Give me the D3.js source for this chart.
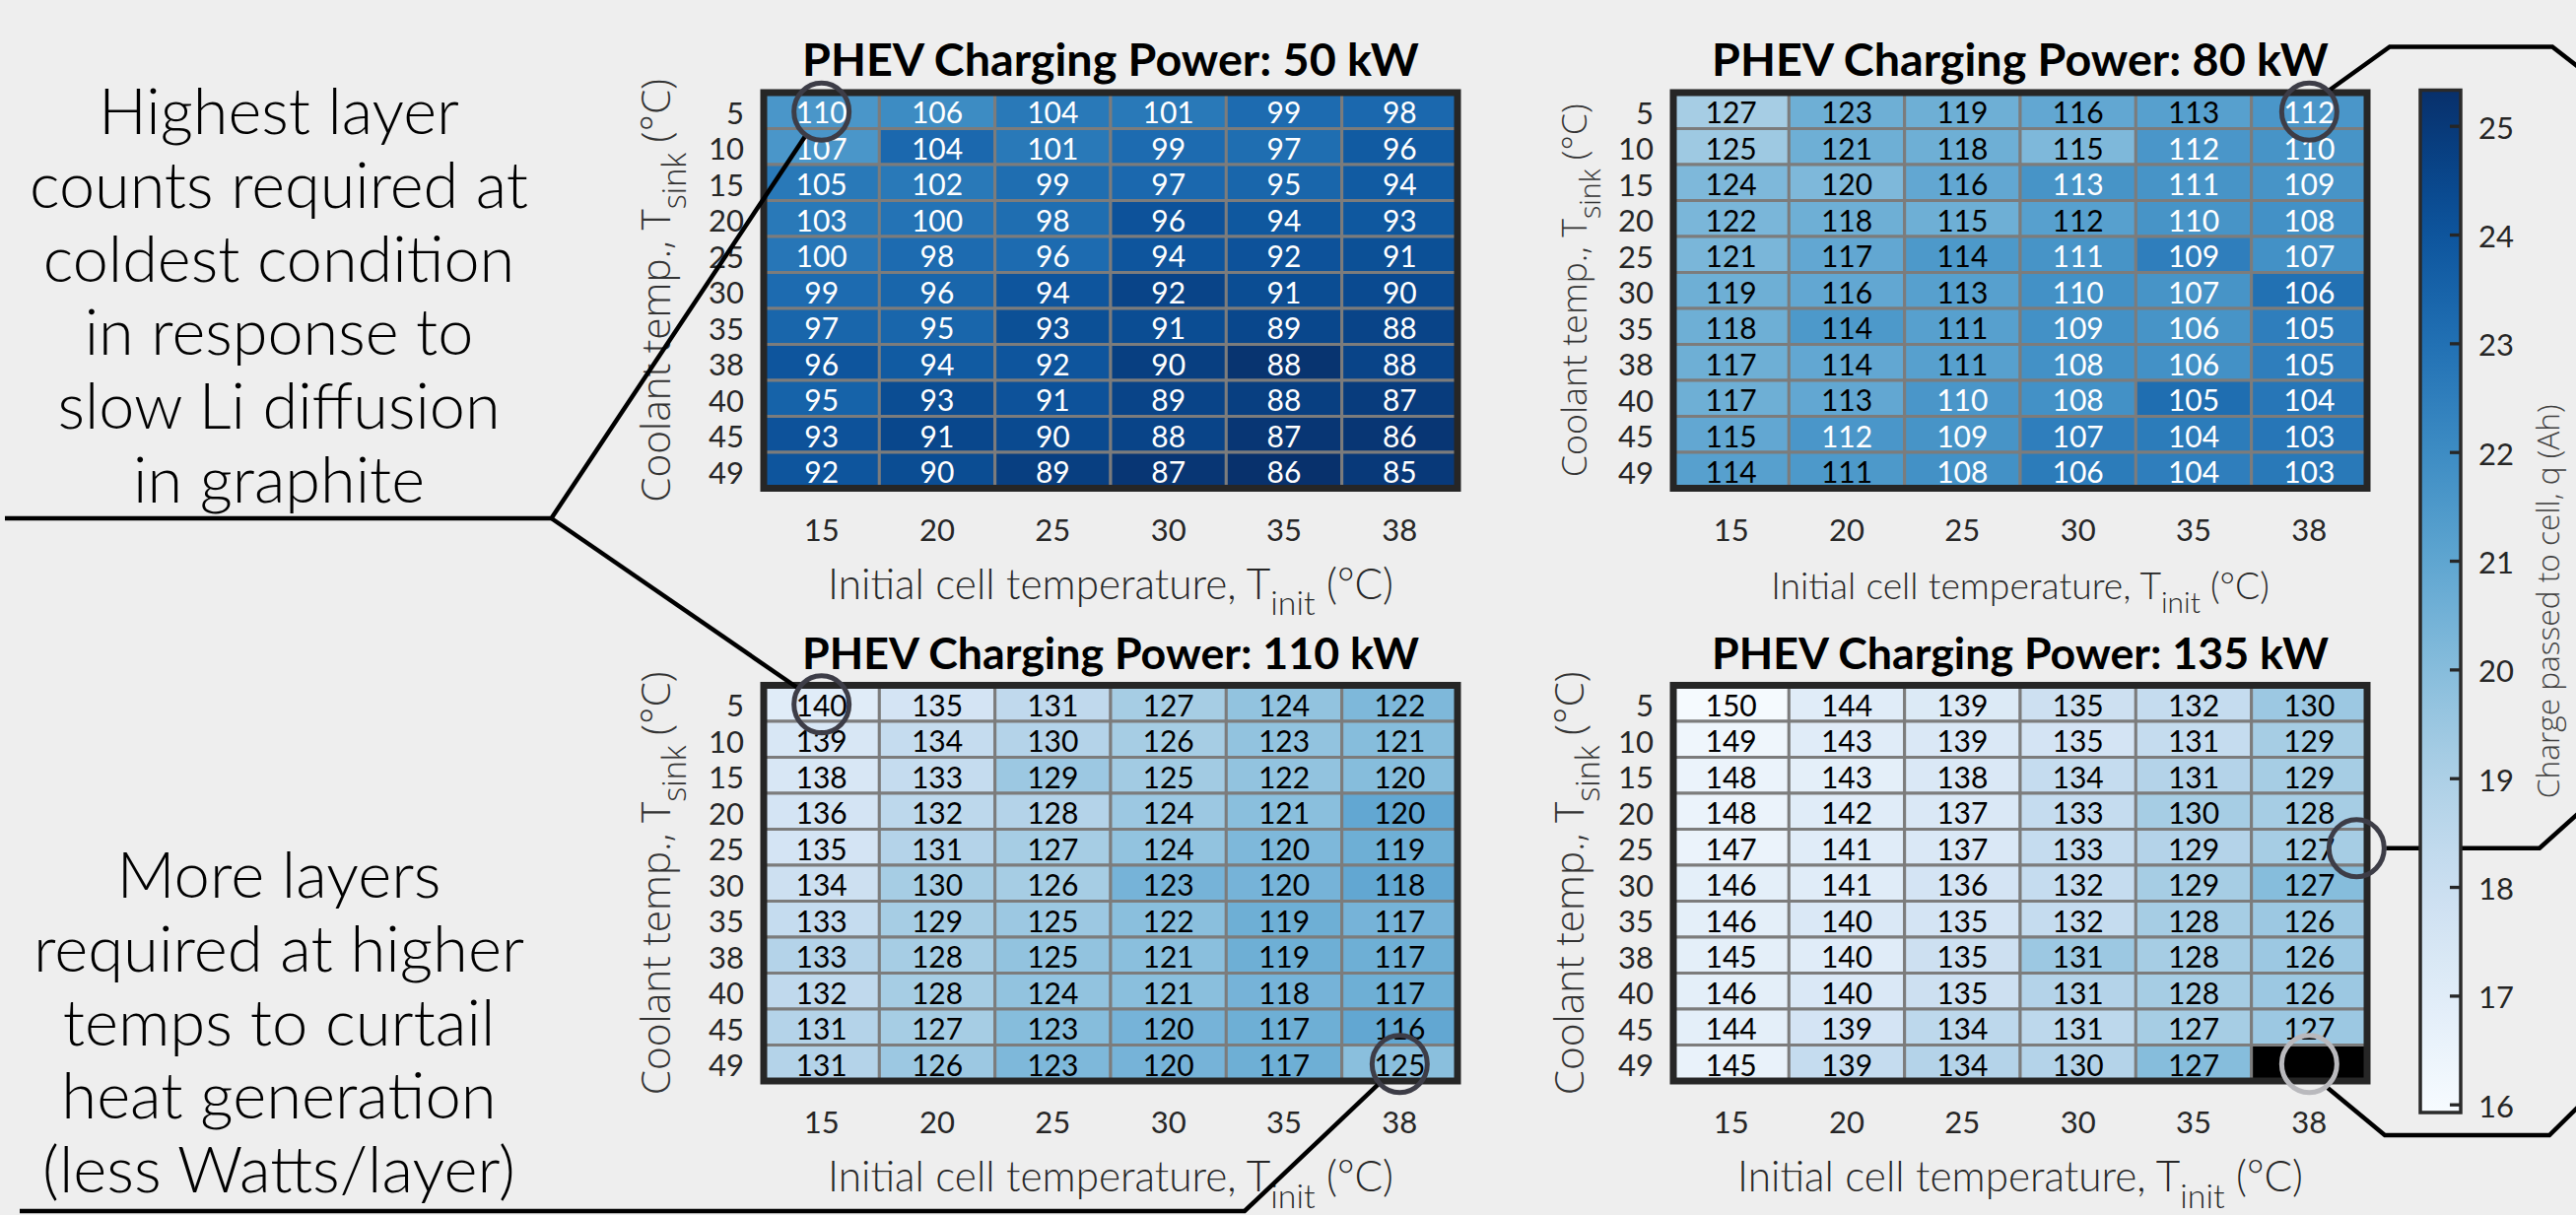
<!DOCTYPE html>
<html>
<head>
<meta charset="utf-8">
<script src="https://cdn.jsdelivr.net/npm/d3@7"></script>
<style>
  body { margin: 0; background: #eeeeee; }
  svg { display: block; }
</style>
</head>
<body>
<svg id="fig"></svg>
<script>
// ---- data ----
const powers = [50, 80, 110, 135];
const tInit = [15, 20, 25, 30, 35, 38];
const tSink = [5, 10, 15, 20, 25, 30, 35, 38, 40, 45, 49];
const cbTicks = [16, 17, 18, 19, 20, 21, 22, 23, 24, 25];
const chargeRange = [15.925, 25.328];

// layer counts printed in the cells (rows = tSink, cols = tInit)
const layers50 = [
  [110,106,104,101,99,98],[107,104,101,99,97,96],[105,102,99,97,95,94],[103,100,98,96,94,93],
  [100,98,96,94,92,91],[99,96,94,92,91,90],[97,95,93,91,89,88],[96,94,92,90,88,88],
  [95,93,91,89,88,87],[93,91,90,88,87,86],[92,90,89,87,86,85]];
const layers80 = [
  [127,123,119,116,113,112],[125,121,118,115,112,110],[124,120,116,113,111,109],[122,118,115,112,110,108],
  [121,117,114,111,109,107],[119,116,113,110,107,106],[118,114,111,109,106,105],[117,114,111,108,106,105],
  [117,113,110,108,105,104],[115,112,109,107,104,103],[114,111,108,106,104,103]];
const layers110 = [
  [140,135,131,127,124,122],[139,134,130,126,123,121],[138,133,129,125,122,120],[136,132,128,124,121,120],
  [135,131,127,124,120,119],[134,130,126,123,120,118],[133,129,125,122,119,117],[133,128,125,121,119,117],
  [132,128,124,121,118,117],[131,127,123,120,117,116],[131,126,123,120,117,125]];
const layers135 = [
  [150,144,139,135,132,130],[149,143,139,135,131,129],[148,143,138,134,131,129],[148,142,137,133,130,128],
  [147,141,137,133,129,127],[146,141,136,132,129,127],[146,140,135,132,128,126],[145,140,135,131,128,126],
  [146,140,135,131,128,126],[144,139,134,131,127,127],[145,139,134,130,127,null]];

// charge passed to cell q (Ah)
const charge50 = [
  [21.6,22.0,22.7,22.7,23.2,23.3],[21.6,23.3,22.7,23.2,23.1,23.8],[22.7,22.7,23.1,23.3,23.4,23.8],
  [22.7,22.9,23.1,24.1,23.9,23.9],[22.8,23.2,23.2,24.0,24.1,24.2],[23.2,23.4,24.0,24.6,24.3,24.4],
  [23.4,23.4,24.2,24.3,24.5,24.6],[24.0,23.8,24.0,24.8,25.2,24.6],[23.5,24.3,24.1,24.6,24.8,24.9],
  [24.1,24.5,24.4,24.6,25.1,25.1],[24.0,24.3,24.8,25.1,25.3,25.0]];
const charge80 = [
  [19.2,20.6,20.6,20.9,21.2,21.6],[19.4,20.6,20.6,20.2,21.6,21.7],[20.2,20.2,20.9,21.7,21.7,21.7],
  [20.3,20.6,20.6,21.2,21.7,21.8],[20.3,20.9,21.5,21.7,22.5,21.8],[20.6,20.9,21.2,21.8,21.7,23.0],
  [20.6,21.5,21.2,21.8,21.7,22.5],[20.6,20.9,21.2,21.8,21.8,22.5],[20.6,20.9,21.6,21.8,23.1,22.8],
  [20.9,21.6,21.7,22.5,22.6,22.8],[21.2,21.5,21.8,22.6,22.5,22.7]];
const charge110 = [
  [17.0,17.6,18.4,19.2,19.7,20.2],[17.4,18.2,18.8,19.2,19.7,20.0],[17.4,18.2,19.45,19.3,19.7,20.0],
  [17.6,18.5,18.8,19.45,19.9,20.9],[17.6,18.8,19.2,19.7,20.2,20.6],[17.9,19.2,19.2,20.4,20.4,20.9],
  [18.2,19.2,19.45,19.9,20.6,20.4],[18.8,19.2,19.7,19.9,20.6,20.6],[18.4,19.2,19.7,19.9,20.4,20.6],
  [18.8,19.2,20.0,20.4,20.6,20.9],[18.8,19.45,20.2,20.4,20.6,19.9]];
const charge135 = [
  [16.0,17.0,17.2,17.9,18.2,19.45],[16.3,17.0,17.3,17.6,18.2,19.2],[16.5,16.8,17.3,18.2,18.8,19.2],
  [16.5,17.0,17.3,18.2,19.2,19.2],[16.5,17.0,17.3,18.2,18.8,19.2],[16.8,17.0,17.6,18.2,19.2,20.0],
  [16.8,17.3,17.6,18.2,19.2,19.45],[16.8,17.0,17.9,19.45,19.2,19.45],[16.8,17.3,17.9,18.8,19.2,19.45],
  [16.8,17.6,18.5,18.5,19.2,19.45],[16.6,18.2,18.8,18.8,20.0,null]];

const noteTop = ["Highest layer", "counts required at", "coldest condition",
                 "in response to", "slow Li diffusion", "in graphite"];
const noteBottom = ["More layers", "required at higher", "temps to curtail",
                    "heat generation", "(less Watts/layer)"];

// ---- layout ----
const W = 2614, H = 1233;
const pw = 704, ph = 401.5;
const layout = [
  { x: 775,  y: 94,    xlabW: 574, ylabW: 430, ylabOff: 95 },
  { x: 1698, y: 94,    xlabW: 506, ylabW: 379, ylabOff: 88 },
  { x: 775,  y: 695.5, xlabW: 574, ylabW: 430, ylabOff: 95 },
  { x: 1698, y: 695.5, xlabW: 574, ylabW: 430, ylabOff: 91 }
];
const layerSets = [layers50, layers80, layers110, layers135];
const chargeSets = [charge50, charge80, charge110, charge135];

const FONT = "Lato, 'Open Sans', sans-serif";
const WIDE = "'Open Sans', 'Noto Sans', sans-serif";

const svg = d3.select("#fig").attr("width", W).attr("height", H);
svg.append("rect").attr("width", W).attr("height", H).attr("fill", "#eeeeee");

const x = d3.scaleBand().domain(tInit).range([0, pw]);
const y = d3.scaleBand().domain(tSink).range([0, ph]);
const color = d3.scaleSequential(d3.interpolateBlues).domain(chargeRange);

function fitWidth(sel, target) {
  const w = sel.node().getBBox().width;
  const fs = parseFloat(sel.attr("font-size"));
  sel.attr("font-size", fs * target / w);
}

function subLabel(sel, parts) {
  parts.forEach(([t, sub], i) => {
    const ts = sel.append("tspan").text(t);
    if (sub) ts.attr("font-size", "80%").attr("dy", "0.5em");
    else if (i > 0 && parts[i - 1][1]) ts.attr("dy", "-0.4em");
  });
}

const layersLayer = svg.append("g");
const linesLayer = svg.append("g");
const ringsLayer = svg.append("g");

powers.forEach((pwr, k) => {
  const L = layout[k];
  const g = layersLayer.append("g").attr("transform", `translate(${L.x},${L.y})`);
  const cells = [];
  tSink.forEach((ts, i) => tInit.forEach((ti, j) => {
    cells.push({ ts, ti, n: layerSets[k][i][j], q: chargeSets[k][i][j] });
  }));

  g.selectAll(".cell").data(cells).enter().append("rect")
    .attr("x", d => x(d.ti)).attr("y", d => y(d.ts))
    .attr("width", x.bandwidth()).attr("height", y.bandwidth())
    .attr("fill", d => d.q == null ? "#000" : color(d.q))
    .attr("stroke", "#7c7c7c").attr("stroke-width", 3);

  g.selectAll(".val").data(cells.filter(d => d.n != null)).enter().append("text")
    .attr("x", d => x(d.ti) + x.bandwidth() / 2)
    .attr("y", d => y(d.ts) + y.bandwidth() / 2)
    .attr("dy", "0.43em")
    .attr("text-anchor", "middle")
    .attr("font-family", FONT).attr("font-size", 30)
    .attr("fill", d => d.q > 21.55 ? "#ffffff" : "#000000")
    .text(d => d.n);

  g.append("rect").attr("width", pw).attr("height", ph)
    .attr("fill", "none").attr("stroke", "#262626").attr("stroke-width", 7);

  // axes
  g.append("g").attr("transform", `translate(0,${ph})`)
    .call(d3.axisBottom(x).tickSize(0).tickPadding(0))
    .call(a => a.select(".domain").remove())
    .attr("font-family", FONT).attr("font-size", 31).attr("color", "#262626")
    .selectAll("text").attr("y", 53).attr("dy", null);

  g.append("g")
    .call(d3.axisLeft(y).tickSize(0).tickPadding(20))
    .call(a => a.select(".domain").remove())
    .attr("font-family", FONT).attr("font-size", 31).attr("color", "#262626")
    .selectAll("text").attr("dy", "0.43em");

  const title = g.append("text")
    .attr("x", pw / 2).attr("y", -17).attr("text-anchor", "middle")
    .attr("font-family", FONT).attr("font-weight", 700).attr("font-size", 44)
    .attr("fill", "#000").text(`PHEV Charging Power: ${pwr} kW`);
  fitWidth(title, 626);

  const xl = g.append("text")
    .attr("x", pw / 2).attr("y", ph + 112).attr("text-anchor", "middle")
    .attr("font-family", FONT).attr("font-weight", 300).attr("font-size", 40)
    .attr("fill", "#262626");
  subLabel(xl, [["Initial cell temperature, T", false], ["init", true], [" (°C)", false]]);
  fitWidth(xl, L.xlabW);

  const yl = g.append("text")
    .attr("transform", `translate(${-L.ylabOff},${ph / 2}) rotate(-90)`)
    .attr("text-anchor", "middle")
    .attr("font-family", WIDE).attr("font-weight", 300).attr("font-size", 34)
    .attr("fill", "#333333");
  subLabel(yl, [["Coolant temp., T", false], ["sink", true], [" (°C)", false]]);
  fitWidth(yl, L.ylabW);
});

// ---- colorbar ----
const cb = { x: 2456, y: 91.5, w: 41, h: 1037.5 };
const cy = d3.scaleLinear().domain(chargeRange).range([cb.y + cb.h, cb.y]);
const grad = svg.append("defs").append("linearGradient")
  .attr("id", "cbGrad").attr("x1", 0).attr("y1", 1).attr("x2", 0).attr("y2", 0);
grad.selectAll("stop").data(d3.range(0, 1.0001, 0.05)).enter().append("stop")
  .attr("offset", t => t)
  .attr("stop-color", t => color(chargeRange[0] + t * (chargeRange[1] - chargeRange[0])));
svg.append("rect").attr("x", cb.x).attr("y", cb.y).attr("width", cb.w).attr("height", cb.h)
  .attr("fill", "url(#cbGrad)");
const cbAxis = svg.append("g").attr("transform", `translate(${cb.x + cb.w},0)`)
  .call(d3.axisRight(cy).tickValues(cbTicks).tickSize(-11).tickPadding(18))
  .attr("font-family", FONT).attr("font-size", 31).attr("color", "#262626");
cbAxis.select(".domain").remove();
cbAxis.selectAll("line").attr("stroke-width", 3.3);
cbAxis.selectAll("text").attr("dy", "0.4em");
svg.append("rect").attr("x", cb.x).attr("y", cb.y).attr("width", cb.w).attr("height", cb.h)
  .attr("fill", "none").attr("stroke", "#2a2a2a").attr("stroke-width", 3.5);
const cbl = svg.append("text")
  .attr("transform", `translate(2597,${cb.y + cb.h / 2}) rotate(-90)`)
  .attr("text-anchor", "middle")
  .attr("font-family", WIDE).attr("font-weight", 300).attr("font-size", 30)
  .attr("fill", "#404040").text("Charge passed to cell, q (Ah)");
fitWidth(cbl, 400);

// ---- annotation rings and leader lines ----
function cellCenter(k, ts, ti) {
  return [layout[k].x + x(ti) + x.bandwidth() / 2, layout[k].y + y(ts) + y.bandwidth() / 2];
}
const rings = [
  { k: 0, ts: 5, ti: 15, dx: 0, c: "#3d3d47" },
  { k: 1, ts: 5, ti: 38, dx: 0, c: "#3d3d47" },
  { k: 2, ts: 5, ti: 15, dx: 0, c: "#3d3d47" },
  { k: 2, ts: 49, ti: 38, dx: 0, c: "#3d3d47" },
  { k: 3, ts: 25, ti: 38, dx: 48, c: "#3d3d47" },
  { k: 3, ts: 49, ti: 38, dx: 0, c: "#b9b9bd" }
];
rings.forEach(r => {
  const [cx, cyy] = cellCenter(r.k, r.ts, r.ti);
  r.cx = cx + r.dx; r.cy = cyy + 1;
});
rings.forEach(r => {
  ringsLayer.append("ellipse").attr("cx", r.cx).attr("cy", r.cy).attr("rx", 28).attr("ry", 29)
    .attr("fill", "none").attr("stroke", r.c).attr("stroke-width", 5);
});

function toward(r, from) {
  const dx = r.cx - from[0], dy = r.cy - from[1], len = Math.hypot(dx, dy);
  return [r.cx - dx / len * 30, r.cy - dy / len * 30];
}
const fork = [559.5, 526];
const lineGen = d3.line();
const leaders = [
  [[5, 526], fork, toward(rings[0], fork)],
  [fork, toward(rings[2], fork)],
  [[20, 1229], [1263, 1229], toward(rings[3], [1263, 1229])],
  [[2363, 92], [2425, 47.5], [2590, 47.5], [2650, 94]],
  [[rings[4].cx + 30, rings[4].cy], [2577, rings[4].cy], [2650, 795]],
  [[2362, 1104], [2420, 1152], [2587, 1152], [2650, 1090]]
];
leaders.forEach(pts => {
  linesLayer.append("path").attr("d", lineGen(pts))
    .attr("fill", "none").attr("stroke", "#000").attr("stroke-width", 4.5)
    .attr("stroke-linejoin", "miter");
});

// ---- side notes ----
function note(lines, baseline0, step, fitLine, fitW) {
  const t = svg.append("text").attr("font-family", FONT).attr("font-weight", 300)
    .attr("font-size", 66).attr("fill", "#000").attr("text-anchor", "middle");
  lines.forEach((s, i) => t.append("tspan").attr("x", 283).attr("y", baseline0 + i * step).text(s));
  const probe = svg.append("text").attr("font-family", FONT).attr("font-weight", 300)
    .attr("font-size", 66).text(lines[fitLine]);
  const w = probe.node().getBBox().width;
  probe.remove();
  t.attr("font-size", 66 * fitW / w);
}
note(noteTop, 136, 74.8, 1, 506);
note(noteBottom, 911, 74.8, 1, 498);
</script>
</body>
</html>
